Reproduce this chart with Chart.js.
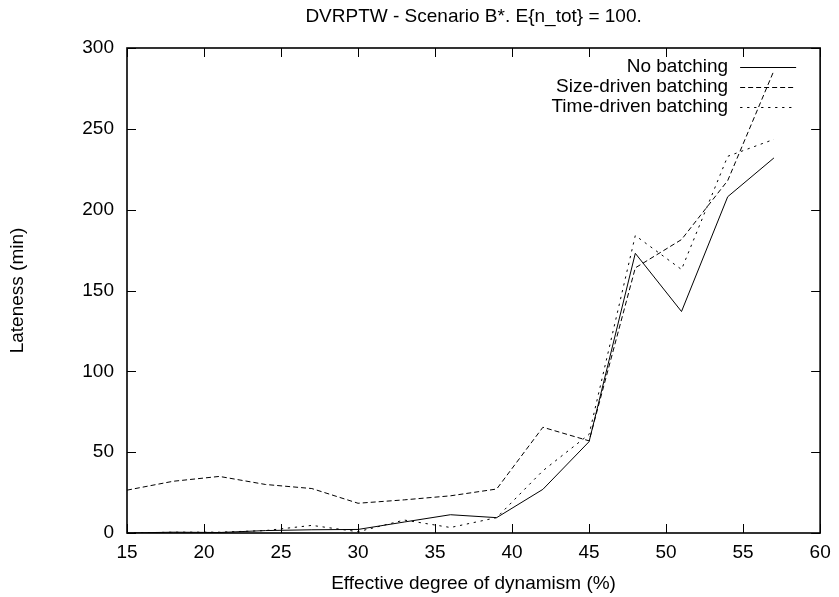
<!DOCTYPE html>
<html>
<head>
<meta charset="utf-8">
<script src="https://cdn.jsdelivr.net/npm/chart.js@4.4.0/dist/chart.umd.min.js"></script>
<style>
  html, body { margin: 0; padding: 0; background: #fff; }
</style>
</head>
<body>
<canvas id="chart" width="839" height="597"></canvas>
<script>
// Effective degree of dynamism (%)
const dynamism = [15, 18, 21, 24, 27, 30, 33, 36, 39, 42, 45, 48, 51, 54, 57];

// Lateness (min) for each policy
const noBatching = [0, 0.5, 0.3, 1.5, 2, 2.2, 6.8, 11.3, 9.5, 27, 56.5, 173, 137, 208, 232];
const sizeDriven = [26.5, 32, 35, 30, 27.5, 18.4, 20.5, 23, 27.2, 65.4, 57, 164, 181.5, 218, 286];
const timeDriven = [0, 0.5, 0.5, 1.5, 4.7, 0.8, 8, 3.4, 9.5, 38.5, 61, 184, 163, 233, 243.5];

const seriesLabels = ['No batching', 'Size-driven batching', 'Time-driven batching'];
const xTicks = [15, 20, 25, 30, 35, 40, 45, 50, 55, 60];
const yTicks = [0, 50, 100, 150, 200, 250, 300];

const FONT = { family: '"Liberation Sans", Arial, Helvetica, sans-serif', size: 19 };

function toPoints(values) {
    return dynamism.map((x, i) => ({ x: x, y: values[i] }));
}

// gnuplot style frame with inward ticks on all four sides
const framePlugin = {
    id: 'frame',
    afterDatasetsDraw(chart) {
        const { ctx, chartArea: a, scales } = chart;
        const len = 9;
        ctx.save();
        ctx.strokeStyle = '#000';
        ctx.lineWidth = 1;
        ctx.beginPath();
        xTicks.forEach(v => {
            const px = Math.round(scales.x.getPixelForValue(v)) + 0.5;
            ctx.moveTo(px, a.bottom); ctx.lineTo(px, a.bottom - len);
            ctx.moveTo(px, a.top); ctx.lineTo(px, a.top + len);
        });
        yTicks.forEach(v => {
            const py = Math.round(scales.y.getPixelForValue(v)) + 0.5;
            ctx.moveTo(a.left, py); ctx.lineTo(a.left + len, py);
            ctx.moveTo(a.right, py); ctx.lineTo(a.right - len, py);
        });
        ctx.stroke();
        ctx.lineWidth = 1.6;
        ctx.strokeRect(a.left, a.top, a.right - a.left, a.bottom - a.top);
        ctx.restore();
    }
};

// key in the top right corner: label right aligned, sample line after it
const keyPlugin = {
    id: 'key',
    afterDraw(chart) {
        const { ctx, chartArea: a } = chart;
        const textRight = a.right - 92;
        const lineStart = a.right - 80;
        const lineEnd = a.right - 24;
        ctx.save();
        ctx.font = FONT.size + 'px ' + FONT.family;
        ctx.textAlign = 'right';
        ctx.textBaseline = 'middle';
        chart.data.datasets.forEach((ds, i) => {
            const y = a.top + 18.5 + i * 20;
            ctx.fillStyle = '#000';
            ctx.fillText(ds.label, textRight, y);
            ctx.strokeStyle = ds.borderColor;
            ctx.lineWidth = ds.borderWidth;
            ctx.setLineDash(ds.borderDash || []);
            ctx.beginPath();
            ctx.moveTo(lineStart, Math.round(y) + 0.5);
            ctx.lineTo(lineEnd, Math.round(y) + 0.5);
            ctx.stroke();
        });
        ctx.restore();
    }
};

new Chart(document.getElementById('chart'), {
    type: 'line',
    data: {
        datasets: [{
            label: seriesLabels[0],
            data: toPoints(noBatching),
            borderColor: '#000',
            borderWidth: 1,
            borderDash: []
        }, {
            label: seriesLabels[1],
            data: toPoints(sizeDriven),
            borderColor: '#000',
            borderWidth: 1,
            borderDash: [5, 3]
        }, {
            label: seriesLabels[2],
            data: toPoints(timeDriven),
            borderColor: '#000',
            borderWidth: 1,
            borderDash: [2.3, 4.7]
        }]
    },
    options: {
        responsive: false,
        animation: false,
        layout: { padding: { top: 0, right: 12, bottom: 0, left: 0 } },
        elements: {
            point: { radius: 0 },
            line: { tension: 0, fill: false }
        },
        plugins: {
            legend: { display: false },
            tooltip: { enabled: false },
            title: {
                display: true,
                fullSize: false,
                text: 'DVRPTW - Scenario B*. E{n_tot} = 100.',
                color: '#000',
                font: { family: FONT.family, size: FONT.size, weight: 'normal' },
                padding: { top: 5.6, bottom: 19.6 }
            }
        },
        scales: {
            x: {
                type: 'linear',
                min: 15,
                max: 60,
                grid: { display: false, drawTicks: false },
                border: { display: false },
                afterBuildTicks: scale => { scale.ticks = xTicks.map(v => ({ value: v })); },
                afterFit: scale => { scale.height = 64; },
                ticks: { color: '#000', font: FONT, padding: 8.3, maxRotation: 0, autoSkip: false },
                title: {
                    display: true,
                    text: 'Effective degree of dynamism (%)',
                    color: '#000',
                    font: FONT,
                    padding: { top: 0, bottom: 2.3 }
                }
            },
            y: {
                min: 0,
                max: 300,
                grid: { display: false, drawTicks: false },
                border: { display: false },
                afterBuildTicks: scale => { scale.ticks = yTicks.map(v => ({ value: v })); },
                afterFit: scale => { scale.width = 127; },
                ticks: { color: '#000', font: FONT, padding: 13 },
                title: {
                    display: true,
                    text: 'Lateness (min)',
                    color: '#000',
                    font: FONT,
                    padding: { top: 6.6, bottom: 0 }
                }
            }
        }
    },
    plugins: [framePlugin, keyPlugin]
});
</script>
</body>
</html>
